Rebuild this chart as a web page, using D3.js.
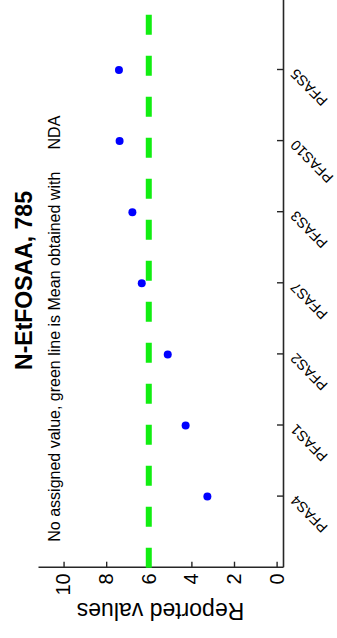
<!DOCTYPE html>
<html>
<head>
<meta charset="utf-8">
<script src="https://cdn.jsdelivr.net/npm/d3@7"></script>
<style>
  html, body { margin: 0; padding: 0; background: #fff; }
  svg { display: block; }
  text { font-family: "Liberation Sans", Arial, Helvetica, sans-serif; fill: #000; }
</style>
</head>
<body>
<svg id="chart" width="337" height="638"></svg>
<script>
const categories = ["PFAS4", "PFAS1", "PFAS2", "PFAS7", "PFAS3", "PFAS10", "PFAS5"];
const reportedValues = [3.25, 4.27, 5.11, 6.33, 6.77, 7.37, 7.40];
const meanValue = 6.0;
const valueTicks = [0, 2, 4, 6, 8, 10];
const titleText = "N-EtFOSAA, 785";
const subtitleText = "No assigned value, green line is Mean obtained with     NDA";
const yLabelText = "Reported values";

// Chart is drawn in an unrotated 638x337 frame, then rotated -90deg into the 337x638 page
const W = 638, H = 337;
const svg = d3.select("#chart");
svg.append("rect").attr("width", 337).attr("height", 638).attr("fill", "#fff");
const g = svg.append("g").attr("transform", `translate(0,${W}) rotate(-90)`);

const plotLeft = 70.3, plotBottom = 283, plotTop = 38;
const x = d3.scaleLinear().domain([0, categories.length + 1]).range([plotLeft, plotLeft + 8 * 71.1]);
const y = d3.scaleLinear().domain([-0.3, 11.2]).range([plotBottom, plotTop]);

const axisColor = "#262626";

// value axis
const yAxis = g.append("g").attr("transform", `translate(${plotLeft},0)`)
  .call(d3.axisLeft(y).tickValues(valueTicks).tickSizeInner(-6).tickSizeOuter(0).tickPadding(5.6));
yAxis.select(".domain").attr("stroke", axisColor).attr("stroke-width", 1.6);
yAxis.selectAll(".tick line").attr("stroke", axisColor).attr("stroke-width", 1.4);
yAxis.selectAll(".tick text").attr("font-size", 20).attr("fill", "#000")
  .attr("font-family", "'Liberation Sans', Arial, sans-serif");

// category axis
const xAxis = g.append("g").attr("transform", `translate(0,${plotBottom})`)
  .call(d3.axisBottom(x).tickValues(d3.range(1, categories.length + 1))
    .tickFormat(i => categories[i - 1]).tickSizeInner(-6).tickSizeOuter(0));
xAxis.select(".domain").attr("stroke", axisColor).attr("stroke-width", 1.6);
xAxis.selectAll(".tick line").attr("stroke", axisColor).attr("stroke-width", 1.4);
xAxis.selectAll(".tick text").attr("font-size", 14.5).attr("fill", "#000")
  .attr("font-family", "'Liberation Sans', Arial, sans-serif")
  .attr("text-anchor", "end").attr("y", 0).attr("dy", "0.35em")
  .attr("transform", "translate(-2,10) rotate(-45)");

// mean line
g.append("line")
  .attr("x1", x(0)).attr("x2", x(categories.length + 1))
  .attr("y1", y(meanValue)).attr("y2", y(meanValue))
  .attr("stroke", "#11ee11").attr("stroke-width", 6)
  .attr("stroke-dasharray", "20,21");

// points
g.selectAll("circle.pt").data(reportedValues).join("circle")
  .attr("class", "pt")
  .attr("cx", (d, i) => x(i + 1)).attr("cy", d => y(d))
  .attr("r", 4).attr("fill", "#0000ff");

// title
g.append("text").attr("x", 357.5).attr("y", 32)
  .attr("text-anchor", "middle").attr("font-size", 23).attr("font-weight", "bold")
  .text(titleText);

// subtitle
g.append("text").attr("x", 96.3).attr("y", 60)
  .attr("font-size", 16).style("white-space", "pre")
  .text(subtitleText);

// y label
g.append("text").attr("transform", `translate(35,${(plotTop + plotBottom) / 2}) rotate(-90)`)
  .attr("text-anchor", "middle").attr("font-size", 23)
  .text(yLabelText);
</script>
</body>
</html>
